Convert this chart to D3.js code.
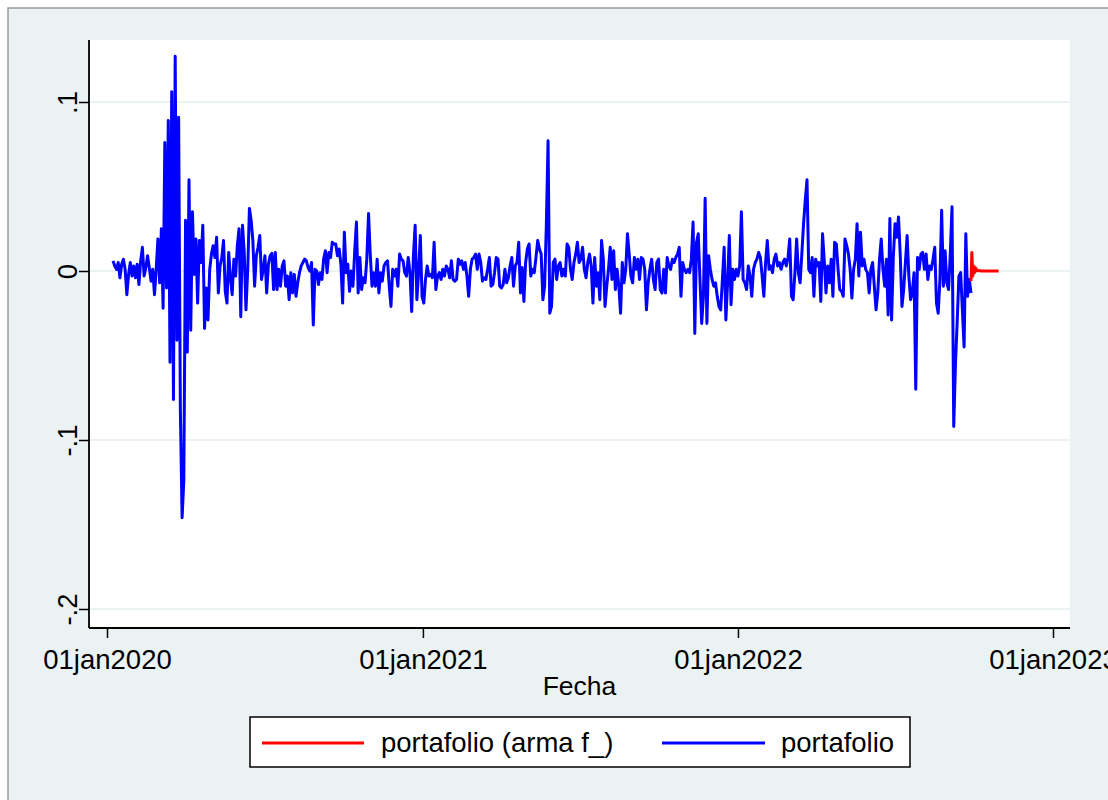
<!DOCTYPE html>
<html>
<head>
<meta charset="utf-8">
<script src="https://cdn.jsdelivr.net/npm/d3@7"></script>
<style>
  body { margin: 0; background: #fff; }
  svg { display: block; }
  text { font-family: Arial, "Liberation Sans", sans-serif; fill: #000; }
</style>
</head>
<body>
<div class="graph-wrapper"></div>
<script>
// portafolio: one reading every 2 days, starting at startDate
const startDate = "2020-01-08";
const stepDays = 2;
const portafolio = [
  0.006, 0.003, 0.001, 0.005, -0.004, 0.004, 0.007, 0.001, -0.014, -0.002,
  0.005, -0.003, 0.003, -0.004, 0.004, -0.008, 0.006, 0.014, -0.003, 0.002,
  0.009, 0.002, -0.006, 0.001, -0.014, 0.001, 0.019, -0.007, 0.025, -0.022,
  0.076, -0.01, 0.089, -0.054, 0.106, -0.076, 0.127, -0.041, 0.091, -0.082,
  -0.146, -0.124, 0.03, -0.048, 0.054, -0.035, 0.035, -0.002, 0.019, -0.019,
  0.018, 0.005, 0.027, -0.034, -0.01, -0.029, 0.001, 0.01, 0.015, 0.008,
  0.02, -0.013, 0.003, 0.008, 0.018, -0.012, -0.019, 0.011, -0.004, -0.014,
  0.007, -0.003, 0.015, 0.025, -0.027, 0.027, 0.011, -0.023, 0.0, 0.037,
  0.03, 0.018, -0.009, 0.009, 0.014, 0.021, -0.005, 0.001, 0.009, -0.013,
  0.004, 0.009,
  0.0105, -0.011, 0.011, -0.011, 0.001, -0.009, 0.003, 0.006, -0.009, -0.003,
  -0.017, -0.001, -0.013, -0.002, -0.015, -0.007, -0.001, 0.003, 0.005, 0.007,
  0.006, 0.002, 0.0, 0.005, -0.032, 0.001, 0.0, -0.008, -0.001, -0.005,
  0.007, 0.012, -0.001, 0.011, 0.008, 0.017, 0.016, 0.016, 0.009, 0.013,
  0.004, -0.019, 0.023, -0.001, 0.004, -0.012, 0.0, -0.009, 0.012, 0.029,
  -0.013, 0.008, -0.011, -0.004, -0.007, 0.007, 0.034, 0.010, -0.009, -0.001,
  -0.009, 0.007, -0.013, -0.001, -0.006, 0.003, 0.005, 0.006, -0.009, -0.021,
  0.001, -0.003, 0.001, -0.009, 0.010, 0.007, 0.006, -0.001, -0.003, 0.008,
  -0.001, -0.024, 0.009, 0.027, -0.017, -0.001, 0.021, -0.015, -0.019, -0.005,
  0.003, -0.003, -0.002, -0.004, 0.017, -0.011, -0.003, -0.001, -0.005, 0.001,
  -0.003, 0.003, 0.001, -0.004, 0.006, -0.005, -0.006, -0.005, 0.007, 0.004,
  0.006, 0.001, 0.005, -0.003, -0.015, 0.001, 0.007, 0.008, 0.010, 0.001,
  0.010, 0.005, -0.006, -0.004, -0.005, 0.001, 0.008, -0.009, -0.008, -0.001,
  0.008, 0.007, -0.009, -0.010, -0.008, 0.001, -0.007, -0.004, 0.003, 0.008,
  -0.009, 0.003, 0.005, 0.017, -0.013, 0.002, -0.018, 0.005, 0.013, 0.016,
  -0.003, 0.001, -0.001, 0.008, 0.018, 0.013, 0.010, -0.017, -0.009, 0.027,
  0.077, -0.025, -0.021, 0.005, 0.007, -0.005, 0.003, 0.005, -0.003, 0.001,
  -0.003, 0.016, 0.014, 0.001, -0.005, 0.005, 0.010, 0.017, 0.005, 0.007,
  0.014, 0.001, -0.004, 0.005, 0.010, 0.003, -0.019, 0.008, -0.009, -0.001,
  -0.017, 0.018, 0.007, -0.021, -0.009, 0.001, 0.014, -0.005, 0.012, -0.011,
  0.001, -0.009, -0.025, 0.005, -0.007, 0.001, 0.022, 0.010, -0.003, -0.007,
  0.008, 0.001, 0.007,
  -0.005, 0.008, 0.007, 0.001, -0.023, -0.007, 0.001, 0.007, -0.005, -0.011,
  0.005, 0.007, -0.011, -0.013, 0.001, -0.013, 0.008, 0.003, 0.001, 0.007,
  0.005, 0.008, 0.010, 0.014, -0.015, 0.005, 0.001, -0.001, 0.001, -0.001,
  0.007, 0.029, -0.037, 0.017, 0.022, -0.005, -0.031, -0.015, 0.043, -0.031,
  0.009, 0.001, -0.005, -0.009, -0.007, -0.015, -0.021, -0.023, -0.005, 0.014,
  -0.029, -0.007, 0.021, -0.020, 0.001, -0.005, 0.001, -0.003, 0.003, 0.035,
  -0.005, -0.007, -0.011, 0.003, -0.003, -0.015, 0.001, 0.005, 0.007, 0.011,
  0.008, -0.003, -0.015, 0.005, 0.018, 0.001, 0.003, -0.001, 0.007, 0.010,
  0.003, 0.005, 0.001, 0.005, 0.007, 0.003, 0.008, 0.019, -0.015, -0.017,
  -0.001, 0.019, -0.001, -0.007, 0.010, 0.028, 0.042, 0.054, 0.001, -0.001,
  0.008, -0.015, 0.007, 0.003, 0.005,
  -0.018, 0.022, 0.006, -0.013, 0.003, -0.007, 0.007, -0.015, 0.017, 0.016,
  0.001, -0.011, -0.012, -0.015, 0.019, 0.015, 0.010, 0.001, -0.016, 0.001,
  0.007, 0.028, -0.003, 0.023, 0.003, 0.007, 0.001, -0.001, -0.013, 0.001,
  0.005, -0.009, -0.023, -0.013, 0.007, 0.019, 0.001, -0.009, 0.007, -0.026,
  0.031, -0.029, 0.008, 0.028, 0.020, 0.032, 0.010, -0.021, -0.011, 0.005,
  0.021, -0.003, -0.017, -0.013, -0.001, -0.070, 0.008, 0.001, 0.010, 0.011,
  0.001, 0.010, -0.005, 0.003, 0.001, 0.007, 0.014, -0.019, -0.025, -0.005,
  0.036, -0.009, 0.012, -0.007, -0.011, 0.010, 0.038, -0.092, -0.055, -0.030,
  -0.003, -0.001, -0.023, -0.045, 0.022, -0.015, -0.005, -0.013
];

// portafolio (arma f_): daily, starting at forecastStart
const forecastStart = "2022-09-28";
const forecast = [
  -0.006, 0.011, -0.003, 0.003, -0.001, 0.002, 0.0, 0.0008, 0.0003, 0.0002,
  0.0001, 0.0001, 0, 0, 0, 0, 0, 0, 0, 0,
  0, 0, 0, 0, 0, 0, 0, 0, 0, 0,
  0, 0, 0
];

const yTicks = [-0.2, -0.1, 0, 0.1];
const yTickLabels = ["-.2", "-.1", "0", ".1"];
const xTicks = ["2020-01-01", "2021-01-01", "2022-01-01", "2023-01-01"];
const xTickLabels = ["01jan2020", "01jan2021", "01jan2022", "01jan2023"];
const xTitle = "Fecha";
const legendLabels = ["portafolio (arma f_)", "portafolio"];
const seriesColors = ["#ff0000", "#0000ff"];

const width = 1108;
const height = 800;
const plot = { left: 89, right: 1070, top: 40, bottom: 627 };

const parse = d3.utcParse("%Y-%m-%d");

const blue = portafolio.map((v, i) => ({ date: d3.utcDay.offset(parse(startDate), i * stepDays), value: v }));
const red = forecast.map((v, i) => ({ date: d3.utcDay.offset(parse(forecastStart), i), value: v }));

const x = d3.scaleUtc()
    .domain([parse(xTicks[0]), parse(xTicks[3])])
    .range([107, 1053]);

const y = d3.scaleLinear()
    .domain([-0.2, 0.1])
    .range([609, 102]);

const svg = d3.select(".graph-wrapper").append("svg")
    .attr("width", width)
    .attr("height", height);

// graph region
svg.append("rect")
    .attr("x", 8).attr("y", 8)
    .attr("width", width).attr("height", height)
    .attr("fill", "#eaf2f3")
    .attr("stroke", "#9a9a9a")
    .attr("stroke-width", 1.5);

// plot region
svg.append("rect")
    .attr("x", plot.left).attr("y", plot.top)
    .attr("width", plot.right - plot.left).attr("height", plot.bottom - plot.top)
    .attr("fill", "#fff");

// grid
svg.append("g")
    .selectAll("line")
    .data(yTicks)
    .join("line")
    .attr("x1", plot.left + 1).attr("x2", plot.right)
    .attr("y1", d => y(d)).attr("y2", d => y(d))
    .attr("stroke", "#eaf2f3")
    .attr("stroke-width", 2);

// series
const line = d3.line()
    .x(d => x(d.date))
    .y(d => y(d.value));

svg.append("path")
    .datum(blue)
    .attr("fill", "none")
    .attr("stroke", seriesColors[1])
    .attr("stroke-width", 3)
    .attr("stroke-linejoin", "round")
    .attr("d", line);

svg.append("path")
    .datum(red)
    .attr("fill", "none")
    .attr("stroke", seriesColors[0])
    .attr("stroke-width", 3)
    .attr("stroke-linejoin", "round")
    .attr("d", line);

// axes
const xAxis = svg.append("g")
    .attr("transform", `translate(0,${plot.bottom + 1})`)
    .call(d3.axisBottom(x)
        .tickValues(xTicks.map(parse))
        .tickFormat((d, i) => xTickLabels[i])
        .tickSize(10));

xAxis.select(".domain").remove();
xAxis.selectAll(".tick line").attr("stroke", "#000").attr("stroke-width", 1.5);
xAxis.selectAll(".tick text")
    .attr("dy", 0)
    .attr("y", 41)
    .style("font-size", "27.5px");

const yAxis = svg.append("g")
    .attr("transform", `translate(${plot.left},0)`)
    .call(d3.axisLeft(y)
        .tickValues(yTicks)
        .tickFormat((d, i) => yTickLabels[i])
        .tickSize(10));

yAxis.select(".domain").remove();
yAxis.selectAll(".tick line").attr("stroke", "#000").attr("stroke-width", 1.5);
yAxis.selectAll(".tick text")
    .attr("x", null)
    .attr("dy", null)
    .attr("text-anchor", "middle")
    .attr("transform", "translate(-12,0) rotate(-90)")
    .style("font-size", "27.5px");

svg.append("line")
    .attr("x1", plot.left).attr("x2", plot.left)
    .attr("y1", plot.top).attr("y2", plot.bottom + 1)
    .attr("stroke", "#000").attr("stroke-width", 1.8);

svg.append("line")
    .attr("x1", plot.left).attr("x2", plot.right)
    .attr("y1", plot.bottom + 1).attr("y2", plot.bottom + 1)
    .attr("stroke", "#000").attr("stroke-width", 1.8);

svg.append("text")
    .attr("x", (plot.left + plot.right) / 2)
    .attr("y", 695)
    .attr("text-anchor", "middle")
    .style("font-size", "26.5px")
    .text(xTitle);

// legend
const legend = svg.append("g");

legend.append("rect")
    .attr("x", 250).attr("y", 717)
    .attr("width", 660).attr("height", 50)
    .attr("fill", "#fff")
    .attr("stroke", "#000")
    .attr("stroke-width", 1.5);

const keys = [
    { x1: 262, x2: 364, tx: 381 },
    { x1: 662, x2: 765, tx: 781 }
];

legend.selectAll("line")
    .data(keys)
    .join("line")
    .attr("x1", d => d.x1).attr("x2", d => d.x2)
    .attr("y1", 743).attr("y2", 743)
    .attr("stroke", (d, i) => seriesColors[i])
    .attr("stroke-width", 3);

legend.selectAll("text")
    .data(keys)
    .join("text")
    .attr("x", d => d.tx)
    .attr("y", 752)
    .style("font-size", "27.5px")
    .text((d, i) => legendLabels[i]);
</script>
</body>
</html>
